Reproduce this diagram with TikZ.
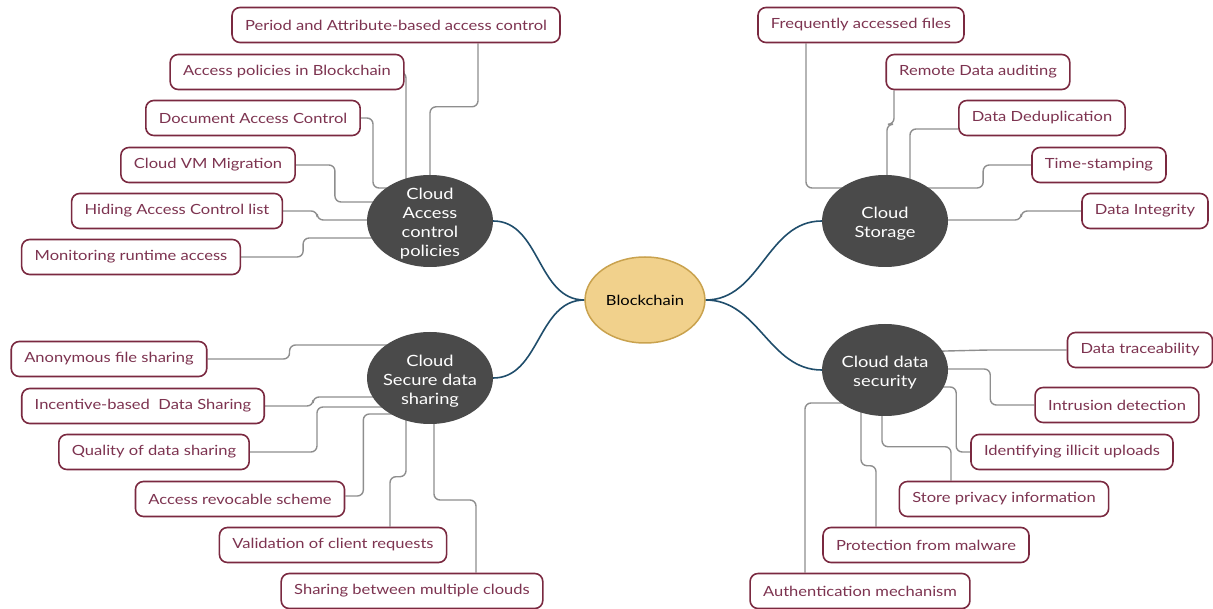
\documentclass[tikz,border=0pt]{standalone}
\usepackage{fontspec}
\setmainfont{Lato}[FakeStretch=1.18]
\usetikzlibrary{shapes.geometric,calc}

\definecolor{leafred}{HTML}{7A2940}
\definecolor{leaftext}{HTML}{7D3350}
\definecolor{hubgray}{HTML}{4A4A4A}
\definecolor{gold}{HTML}{F1D18C}
\definecolor{goldline}{HTML}{C9A24E}
\definecolor{branchblue}{HTML}{1F4D6B}
\definecolor{twiggray}{HTML}{8E8E8E}

\pgfdeclarelayer{back}
\pgfsetlayers{back,main}

\tikzset{
  leaf/.style={draw=leafred, line width=1.6pt, rounded corners=8pt, fill=white,
    text=leaftext, minimum height=35pt, inner xsep=13pt,
    font=\fontsize{14}{16}\selectfont},
  hub/.style={ellipse, fill=hubgray, minimum width=126pt, minimum height=92pt, inner sep=0pt},
  hubtxt/.style={text=white, align=center, yshift=-3pt, font=\fontsize{15.5}{19}\selectfont},
  root/.style={ellipse, fill=gold, draw=goldline, line width=1.5pt,
    minimum width=113pt, minimum height=86pt, font=\fontsize{14}{16}\selectfont},
  twig/.style={draw=twiggray, line width=1.4pt, rounded corners=6pt},
  branch/.style={draw=branchblue, line width=1.6pt},
}

\begin{document}
\begin{tikzpicture}[x=1pt, y=-1pt]
  \useasboundingbox (0,0) rectangle (1213,609);

  \node[root] (bc) at (645,300) {Blockchain};
  \node[hub, label={[hubtxt]center:{Cloud\\Access\\control\\policies}}] (cap) at (430,221) {};
  \node[hub, label={[hubtxt]center:{Cloud\\Storage}}] (cst) at (885,221) {};
  \node[hub, label={[hubtxt]center:{Cloud\\Secure data\\sharing}}] (csd) at (430,378) {};
  \node[hub, label={[hubtxt]center:{Cloud data\\security}}] (cds) at (885,370) {};

  % access control
  \node[leaf] (pab) at (396,25) {Period and Attribute-based access control};
  \node[leaf] (apb) at (287,72) {Access policies in Blockchain};
  \node[leaf] (dac) at (253,118) {Document Access Control};
  \node[leaf] (vmm) at (208,165) {Cloud VM Migration};
  \node[leaf] (hac) at (177,211) {Hiding Access Control list};
  \node[leaf] (mra) at (131,257) {Monitoring runtime access};

  % storage
  \node[leaf] (faf) at (861,25) {Frequently accessed files};
  \node[leaf] (rda) at (978,72) {Remote Data auditing};
  \node[leaf] (ddp) at (1042,118) {Data Deduplication};
  \node[leaf] (tst) at (1099,165) {Time-stamping};
  \node[leaf] (din) at (1145,211) {Data Integrity};

  % data sharing
  \node[leaf] (afs) at (109,359) {Anonymous file sharing};
  \node[leaf] (ibd) at (143,406) {Incentive-based\ \ Data Sharing};
  \node[leaf] (qds) at (154,452) {Quality of data sharing};
  \node[leaf] (arv) at (240,499) {Access revocable scheme};
  \node[leaf] (vcr) at (333,545) {Validation of client requests};
  \node[leaf] (sbm) at (412,591) {Sharing between multiple clouds};

  % data security
  \node[leaf] (dtr) at (1140,350) {Data traceability};
  \node[leaf] (ind) at (1117,405) {Intrusion detection};
  \node[leaf] (iiu) at (1072,452) {Identifying illicit uploads};
  \node[leaf] (spi) at (1004,499) {Store privacy information};
  \node[leaf] (pfm) at (926,545) {Protection from malware};
  \node[leaf] (aum) at (860,591) {Authentication mechanism};

  \begin{pgfonlayer}{back}
    \draw[branch] (bc.west) to[out=180, in=0] (cap.east);
    \draw[branch] (bc.west) to[out=180, in=0] (csd.east);
    \draw[branch] (bc.east) to[out=0, in=180] (cst.west);
    \draw[branch] (bc.east) to[out=0, in=180] (cds.west);

    \draw[twig] ([xshift=82pt]pab.south) |- ($(cap.north)+(0,-68)$) -- (cap);
    \draw[twig] (apb.east) -| ($(cap)+(-24,0)$);
    \draw[twig] (dac.east) -- ++(12,0) |- ($(cap)+(-30,-33)$);
    \draw[twig] (vmm.east) -- ++(39,0) |- ($(cap)+(-20,-19)$);
    \draw[twig] (hac.east) -- ++(34,0) |- ($(cap)+(-20,-1)$);
    \draw[twig] (mra.east) -- ++(62,0) |- ($(cap)+(-20,17)$);

    \draw[twig] ([xshift=-55pt]faf.south) |- ($(cst)+(-20,-33)$);
    \draw[twig] ([xshift=-84pt]rda.south) -- ++(0,34) -| ($(cst)+(2,0)$);
    \draw[twig] ([yshift=-11pt]ddp.west) -| ($(cst)+(25,0)$);
    \draw[twig] (tst.west) -- ++(-48,0) |- ($(cst)+(20,-33)$);
    \draw[twig] (din.west) -- ++(-60,0) |- ($(cst)+(20,-1)$);

    \draw[twig] (afs.east) -- ++(82,0) |- ($(csd)+(-20,-33)$);
    \draw[twig] (ibd.east) -- ++(48,0) |- ($(csd)+(-20,19)$);
    \draw[twig] (qds.east) -- ++(67,0) |- ($(csd)+(-20,29)$);
    \draw[twig] ([yshift=3pt]arv.east) -- ++(18,0) |- ($(csd)+(-20,36)$);
    \draw[twig] ([xshift=57pt]vcr.north) -- ++(0,-50) -| ($(csd)+(-24,0)$);
    \draw[twig] ([xshift=64pt]sbm.north) |- ($(csd)+(4,122)$) -- ($(csd)+(4,0)$);

    \draw[twig] (dtr.west) -- ++(-79,0) -- ($(cds)+(20,-18)$);
    \draw[twig] (ind.west) -- ++(-44,0) |- ($(cds)+(20,-1)$);
    \draw[twig] (iiu.west) -- ++(-14,0) |- ($(cds)+(20,17)$);
    \draw[twig] ([xshift=-53pt]spi.north) -- ++(0,-34) -| ($(cds)+(-3,0)$);
    \draw[twig] ([xshift=-50pt]pfm.north) -- ++(0,-61) -| ($(cds)+(-24,0)$);
    \draw[twig] ([xshift=-55pt]aum.north) |- ($(cds)+(-20,33)$);
  \end{pgfonlayer}
\end{tikzpicture}
\end{document}
